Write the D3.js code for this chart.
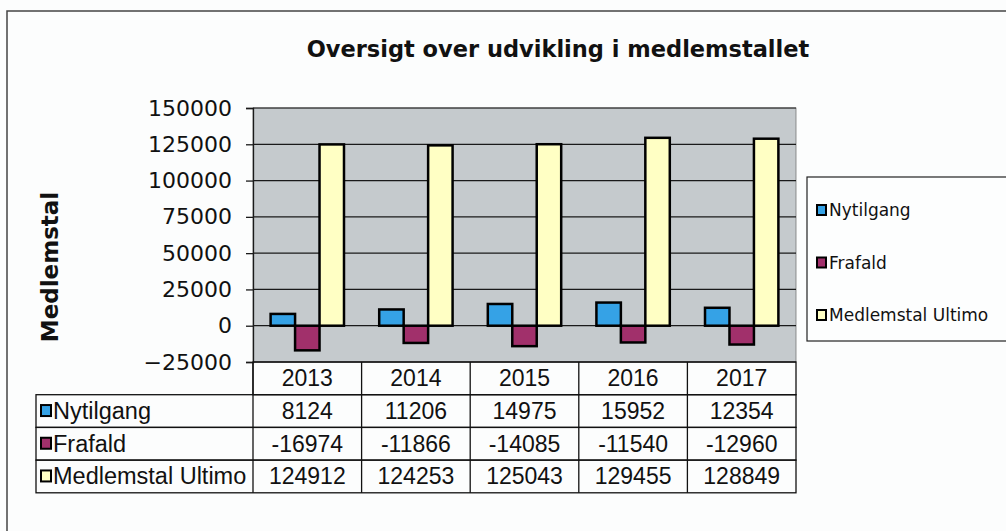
<!DOCTYPE html>
<html>
<head>
<meta charset="utf-8">
<script src="https://cdn.jsdelivr.net/npm/d3@7"></script>
<style>
  body { margin: 0; background: #fcfdfd; }
  svg { display: block; }
</style>
</head>
<body>
<div id="chart-div"></div>
<script>
// Data
const years = ['2013', '2014', '2015', '2016', '2017'];
const seriesNames = ['Nytilgang', 'Frafald', 'Medlemstal Ultimo'];
const nytilgang = [8124, 11206, 14975, 15952, 12354];
const frafald = [-16974, -11866, -14085, -11540, -12960];
const medlemstal = [124912, 124253, 125043, 129455, 128849];
const yTicks = [-25000, 0, 25000, 50000, 75000, 100000, 125000, 150000];

const WIDTH = 1006;
const HEIGHT = 531;
const PLOT = { left: 253, right: 796, top: 108, bottom: 362 };
const ROW_H = 32.7;
const TABLE_LEFT = 36;
const COLORS = ['#35a2e6', '#a1306b', '#ffffc4'];
const PLOT_BG = '#c5cacd';

var svg;

setup();

function setup () {
  svg = d3.select('#chart-div')
          .append('svg')
          .attr('width', WIDTH)
          .attr('height', HEIGHT);

  // outer frame (runs off the right and bottom of the picture)
  svg.append('rect')
     .attr('x', 7).attr('y', 11)
     .attr('width', 1100).attr('height', 600)
     .attr('fill', 'none')
     .attr('stroke', '#444')
     .attr('stroke-width', 1.5);

  const values = [nytilgang, frafald, medlemstal];
  const data = years.map((yr, i) => ({ year: yr, vals: values.map(v => v[i]) }));

  drawChart(data);
  drawTable(values);
  drawLegend();
}

function drawChart(data) {
  var x = d3.scaleBand().domain(years).range([PLOT.left, PLOT.right]);
  var xSub = d3.scaleBand().domain(d3.range(seriesNames.length))
               .range([0, x.bandwidth()]).paddingOuter(0.72);
  var y = d3.scaleLinear().domain([-25000, 150000]).range([PLOT.bottom, PLOT.top]);

  // grey plot area
  svg.append('rect')
     .attr('x', PLOT.left).attr('y', PLOT.top)
     .attr('width', PLOT.right - PLOT.left)
     .attr('height', PLOT.bottom - PLOT.top)
     .attr('fill', PLOT_BG)
     .attr('stroke', '#777')
     .attr('stroke-width', 0.8);

  // gridlines
  svg.append('g')
     .selectAll('line')
     .data(yTicks)
     .join('line')
     .attr('x1', PLOT.left).attr('x2', PLOT.right)
     .attr('y1', d => y(d)).attr('y2', d => y(d))
     .attr('stroke', '#1a1a1a')
     .attr('stroke-width', 1.2);

  // y axis
  const yAxis = svg.append('g')
     .attr('transform', `translate(${PLOT.left},0)`)
     .call(d3.axisLeft(y).tickValues(yTicks).tickSize(7).tickPadding(14).tickFormat(d3.format('d')));
  yAxis.selectAll('text')
       .attr('font-family', 'DejaVu Sans, Verdana, sans-serif')
       .attr('font-size', 22)
       .attr('fill', '#111');
  yAxis.selectAll('line, path').attr('stroke', '#1a1a1a').attr('stroke-width', 1.3);

  // y axis title
  svg.append('text')
     .attr('transform', 'translate(58,267) rotate(-90)')
     .attr('text-anchor', 'middle')
     .attr('font-family', 'DejaVu Sans, Verdana, sans-serif')
     .attr('font-weight', 'bold')
     .attr('font-size', 23)
     .attr('fill', '#111')
     .text('Medlemstal');

  // title
  svg.append('text')
     .attr('x', 558).attr('y', 57)
     .attr('text-anchor', 'middle')
     .attr('font-family', 'DejaVu Sans, Verdana, sans-serif')
     .attr('font-weight', 'bold')
     .attr('font-size', 22.5)
     .attr('fill', '#111')
     .text('Oversigt over udvikling i medlemstallet');

  // bars
  const groups = svg.append('g')
     .selectAll('g')
     .data(data)
     .join('g')
     .attr('transform', d => `translate(${x(d.year)},0)`);

  groups.selectAll('rect')
     .data(d => d.vals.map((v, i) => ({ i: i, v: v })))
     .join('rect')
     .attr('x', d => xSub(d.i))
     .attr('y', d => y(Math.max(0, d.v)))
     .attr('width', xSub.bandwidth())
     .attr('height', d => Math.abs(y(d.v) - y(0)))
     .attr('fill', d => COLORS[d.i])
     .attr('stroke', '#000')
     .attr('stroke-width', 2.5);
}

function drawTable(values) {
  var x = d3.scaleBand().domain(years).range([PLOT.left, PLOT.right]);
  const font = 'Liberation Sans, Arial, sans-serif';
  const g = svg.append('g');

  // header row (years)
  g.append('rect')
   .attr('x', PLOT.left).attr('y', PLOT.bottom)
   .attr('width', PLOT.right - PLOT.left).attr('height', ROW_H)
   .attr('fill', 'none').attr('stroke', '#111').attr('stroke-width', 1.3);

  // body rows
  seriesNames.forEach((name, r) => {
    const top = PLOT.bottom + ROW_H * (r + 1);
    g.append('rect')
     .attr('x', TABLE_LEFT).attr('y', top)
     .attr('width', PLOT.right - TABLE_LEFT).attr('height', ROW_H)
     .attr('fill', 'none').attr('stroke', '#111').attr('stroke-width', 1.3);
    g.append('rect')
     .attr('x', TABLE_LEFT + 5).attr('y', top + ROW_H / 2 - 6)
     .attr('width', 10).attr('height', 11)
     .attr('fill', COLORS[r]).attr('stroke', '#000').attr('stroke-width', 2);
    g.append('text')
     .attr('x', TABLE_LEFT + 17).attr('y', top + ROW_H / 2 + 8)
     .attr('font-family', font).attr('font-size', 23.5).attr('fill', '#111')
     .text(name);
    g.selectAll(null)
     .data(values[r])
     .join('text')
     .attr('x', (d, i) => x(years[i]) + x.bandwidth() / 2)
     .attr('y', top + ROW_H / 2 + 8)
     .attr('text-anchor', 'middle')
     .attr('font-family', font).attr('font-size', 23).attr('fill', '#111')
     .text(d => d);
  });

  // column separators
  g.selectAll(null)
   .data(years)
   .join('line')
   .attr('x1', d => x(d)).attr('x2', d => x(d))
   .attr('y1', PLOT.bottom).attr('y2', PLOT.bottom + ROW_H * 4)
   .attr('stroke', '#111').attr('stroke-width', 1.3);

  g.selectAll(null)
   .data(years)
   .join('text')
   .attr('x', d => x(d) + x.bandwidth() / 2)
   .attr('y', PLOT.bottom + ROW_H / 2 + 8)
   .attr('text-anchor', 'middle')
   .attr('font-family', font).attr('font-size', 23).attr('fill', '#111')
   .text(d => d);
}

function drawLegend() {
  const g = svg.append('g');
  g.append('rect')
   .attr('x', 807).attr('y', 177)
   .attr('width', 260).attr('height', 164)
   .attr('fill', '#fdfefe').attr('stroke', '#222').attr('stroke-width', 1.2);

  seriesNames.forEach((name, i) => {
    const cy = 210 + i * 52.5;
    g.append('rect')
     .attr('x', 817).attr('y', cy - 5)
     .attr('width', 9).attr('height', 10)
     .attr('fill', COLORS[i]).attr('stroke', '#000').attr('stroke-width', 2);
    g.append('text')
     .attr('x', 829).attr('y', cy + 6)
     .attr('font-family', 'DejaVu Sans, Verdana, sans-serif')
     .attr('font-size', 17).attr('fill', '#111')
     .text(name);
  });
}
</script>
</body>
</html>
